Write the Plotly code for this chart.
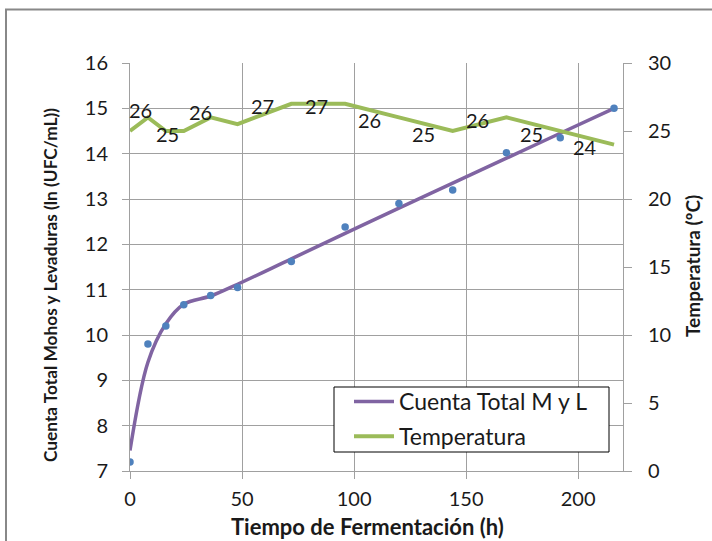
import plotly.graph_objects as go

# Fermentation time (h)
tiempo = [0, 8, 16, 24, 36, 48, 72, 96, 120, 144, 168, 192, 216]
# Measured total mould & yeast count, ln(UFC/mL)
cuenta_medida = [7.2, 9.8, 10.2, 10.67, 10.87, 11.05, 11.62, 12.38, 12.9, 13.2, 14.02, 14.35, 15.0]
# Smoothed curve for the count
cuenta_ajuste = [7.45, 9.4, 10.25, 10.68, 10.86, 11.12, 11.68, 12.24, 12.8, 13.35, 13.9, 14.45, 15.0]
# Temperature (ºC)
temperatura = [25, 26, 25, 25, 26, 25.5, 27, 27, 26, 25, 26, 25, 24]

# Which temperature points get a value label, and the label offset in pixels
etiquetas = {1: (-7, 7), 2: (2, -3), 4: (-10, 5),
             6: (-29, -2.5), 7: (-29, -2.5), 8: (-29, -2.5), 9: (-29, -2.5),
             10: (-29, -2.5), 11: (-29, -2.5), 12: (-29, -2.5)}

W, H = 712, 541
L, R, T, B = 130, 623, 63, 471
FONT = "Lato"
GRID = "#a0a0a0"
TXT = "#1a1a1a"


def px_x(p):
    return (p - L) / (R - L)


def px_y(p):
    return (B - p) / (B - T)


fig = go.Figure()

fig.add_trace(go.Scatter(
    x=tiempo, y=cuenta_ajuste, mode="lines", name="Cuenta Total M y L",
    legendgroup="a",
    line=dict(color="#8064A2", width=3.5, shape="spline", smoothing=1.0),
))
fig.add_trace(go.Scatter(
    x=tiempo, y=temperatura, mode="lines", name="Temperatura", yaxis="y2",
    legendgroup="b",
    line=dict(color="#9BBB59", width=4),
))
fig.add_trace(go.Scatter(
    x=tiempo, y=cuenta_medida, mode="markers", showlegend=False,
    marker=dict(color="#4F81BD", size=7.5),
))

annotations = []
for i, (dx, dy) in etiquetas.items():
    annotations.append(dict(
        x=tiempo[i], y=temperatura[i], xref="x", yref="y2",
        text=f"{temperatura[i]:.0f}", showarrow=False,
        xshift=dx, yshift=dy, font=dict(family=FONT, size=20, color=TXT),
    ))

annotations += [
    dict(x=px_x(367), y=px_y(511), xref="paper", yref="paper",
         text="<b>Tiempo de Fermentación (h)</b>", showarrow=False,
         xanchor="center", yanchor="top",
         font=dict(family=FONT, size=22, color=TXT)),
    dict(x=px_x(50), y=px_y(285), xref="paper", yref="paper",
         text="<b>Cuenta Total Mohos y Levaduras (ln (UFC/mL))</b>",
         showarrow=False, textangle=-90, xanchor="center", yanchor="middle",
         font=dict(family=FONT, size=17.3, color=TXT)),
    dict(x=px_x(692), y=px_y(266), xref="paper", yref="paper",
         text="<b>Temperatura (ºC)</b>", showarrow=False, textangle=-90,
         xanchor="center", yanchor="middle",
         font=dict(family=FONT, size=19, color=TXT)),
]

fig.update_layout(
    width=W, height=H,
    margin=dict(l=L, r=W - R, t=T, b=H - B),
    paper_bgcolor="white", plot_bgcolor="white",
    font=dict(family=FONT, size=20, color=TXT),
    xaxis=dict(range=[0, 220], dtick=50, showgrid=True, gridcolor=GRID,
               gridwidth=1, showline=True, linecolor=GRID, linewidth=1,
               ticks="outside", ticklen=7, tickcolor=GRID,
               zeroline=False, ticklabelstandoff=3),
    yaxis=dict(range=[7, 16], dtick=1, showgrid=True, gridcolor=GRID,
               gridwidth=1, showline=True, linecolor=GRID, linewidth=1,
               ticks="outside", ticklen=7, tickcolor=GRID,
               zeroline=False, ticklabelstandoff=10),
    yaxis2=dict(range=[0, 30], dtick=5, overlaying="y", side="right",
                showgrid=False, showline=True, linecolor=GRID, linewidth=1,
                ticks="outside", ticklen=8, tickcolor=GRID,
                zeroline=False, ticklabelstandoff=12),
    legend=dict(x=px_x(349), y=px_y(380), xanchor="left", yanchor="top",
                bgcolor="rgba(0,0,0,0)", borderwidth=0,
                font=dict(family=FONT, size=23, color=TXT),
                itemwidth=40, tracegroupgap=2),
    annotations=annotations,
    shapes=[
        dict(type="rect", xref="paper", yref="paper",
             x0=px_x(6), y0=px_y(560), x1=px_x(730), y1=px_y(9.5),
             line=dict(color="#888888", width=2), layer="below"),
        # legend frame
        dict(type="rect", xref="paper", yref="paper",
             x0=px_x(334), y0=px_y(452), x1=px_x(609), y1=px_y(387),
             line=dict(color="#000000", width=1), fillcolor="white",
             layer="above"),
    ],
    showlegend=True,
)

fig.write_html("out.html")
